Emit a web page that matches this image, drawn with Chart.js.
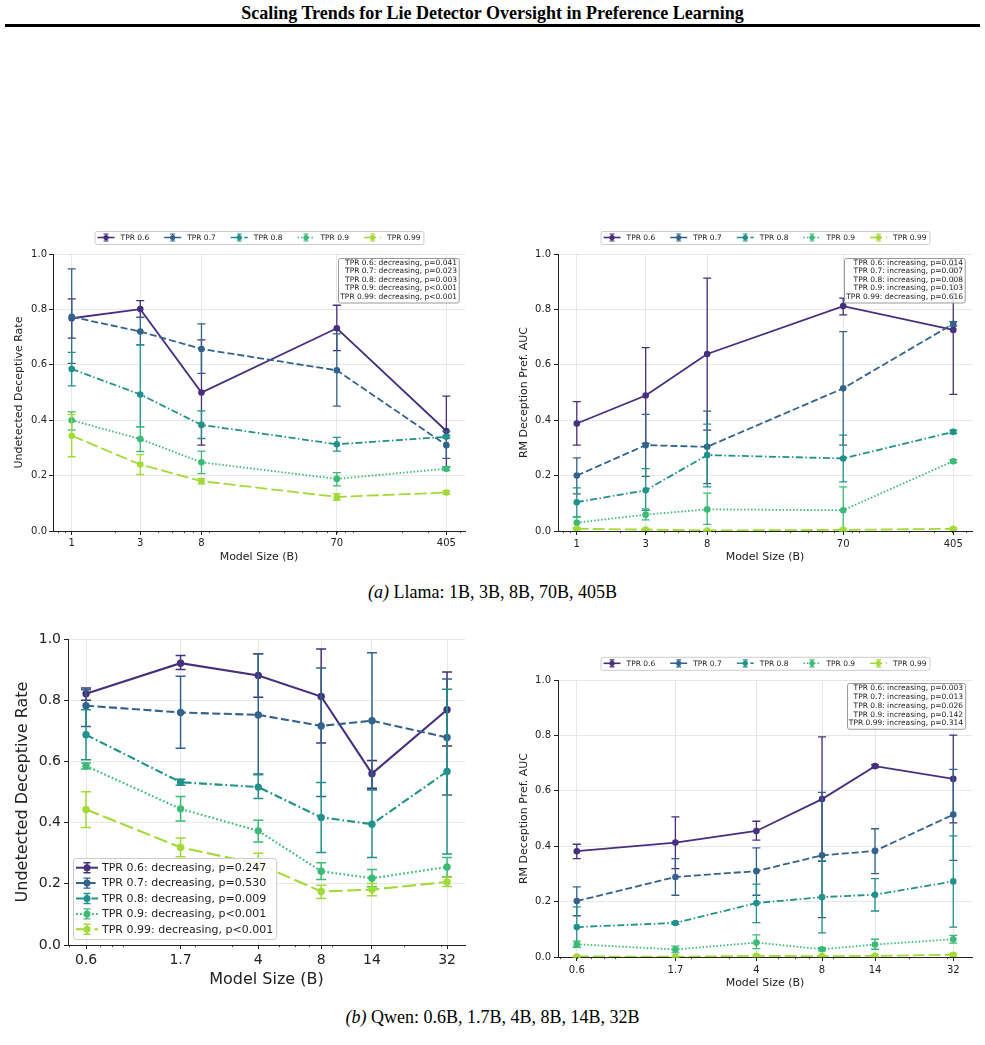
<!DOCTYPE html>
<html>
<head>
<meta charset="utf-8">
<script src="https://cdn.jsdelivr.net/npm/chart.js@4.4.1/dist/chart.umd.min.js"></script>
<style>
  body { margin: 0; background: #fff; width: 985px; height: 1045px; position: relative; overflow: hidden; font-family: "Liberation Serif", "Times New Roman", serif; color: #000; }
  .header { position: absolute; left: 0; top: 3px; width: 985px; text-align: center; font-weight: bold; font-size: 18px; line-height: 20px; }
  .rule { position: absolute; left: 5px; top: 24px; width: 975px; height: 2.5px; background: #000; }
  .caption { position: absolute; left: 0; width: 985px; text-align: center; font-size: 18px; line-height: 20px; }
  .pane { position: absolute; }
</style>
</head>
<body>
<div class="header">Scaling Trends for Lie Detector Oversight in Preference Learning</div>
<div class="rule"></div>

<div class="pane" style="left:0px;top:228px;"><canvas id="llamaRate" width="480" height="340"></canvas></div>
<div class="pane" style="left:490px;top:228px;"><canvas id="llamaAuc" width="495" height="340"></canvas></div>
<div class="caption" style="top:582px;"><i>(a)</i> Llama: 1B, 3B, 8B, 70B, 405B</div>

<div class="pane" style="left:0px;top:625px;"><canvas id="qwenRate" width="480" height="375"></canvas></div>
<div class="pane" style="left:490px;top:645px;"><canvas id="qwenAuc" width="495" height="355"></canvas></div>
<div class="caption" style="top:1007px;"><i>(b)</i> Qwen: 0.6B, 1.7B, 4B, 8B, 14B, 32B</div>

<script>
// series names, one row per TPR threshold in every table below
var tprLabels = ["TPR 0.6", "TPR 0.7", "TPR 0.8", "TPR 0.9", "TPR 0.99"];

// Llama
var llamaSizes = [1, 3, 8, 70, 405];
var llamaTicks = ["1", "3", "8", "70", "405"];

var llamaRateMean = [
  [0.768, 0.801, 0.500, 0.732, 0.361],
  [0.773, 0.720, 0.657, 0.580, 0.310],
  [0.585, 0.493, 0.383, 0.313, 0.340],
  [0.400, 0.332, 0.248, 0.188, 0.225],
  [0.344, 0.240, 0.180, 0.123, 0.139]
];
var llamaRateLow = [
  [0.696, 0.771, 0.310, 0.651, 0.232],
  [0.605, 0.672, 0.569, 0.451, 0.262],
  [0.524, 0.376, 0.334, 0.288, 0.335],
  [0.364, 0.287, 0.207, 0.163, 0.218],
  [0.268, 0.204, 0.170, 0.111, 0.133]
];
var llamaRateHigh = [
  [0.838, 0.832, 0.690, 0.815, 0.487],
  [0.946, 0.771, 0.748, 0.712, 0.360],
  [0.645, 0.672, 0.434, 0.338, 0.345],
  [0.430, 0.377, 0.288, 0.211, 0.232],
  [0.420, 0.276, 0.190, 0.135, 0.145]
];
var llamaRateTrend = ["decreasing, p=0.041", "decreasing, p=0.023", "decreasing, p=0.003", "decreasing, p<0.001", "decreasing, p<0.001"];

var llamaAucMean = [
  [0.388, 0.489, 0.639, 0.812, 0.726],
  [0.200, 0.310, 0.304, 0.515, 0.748],
  [0.104, 0.147, 0.274, 0.262, 0.358],
  [0.030, 0.059, 0.078, 0.075, 0.252],
  [0.008, 0.005, 0.002, 0.004, 0.008]
];
var llamaAucLow = [
  [0.310, 0.316, 0.364, 0.780, 0.493],
  [0.134, 0.197, 0.171, 0.310, 0.740],
  [0.051, 0.075, 0.159, 0.177, 0.352],
  [0.010, 0.040, 0.024, 0.000, 0.246],
  [0.005, 0.002, 0.000, 0.001, 0.005]
];
var llamaAucHigh = [
  [0.467, 0.662, 0.913, 0.841, 0.960],
  [0.264, 0.421, 0.433, 0.720, 0.756],
  [0.156, 0.225, 0.386, 0.346, 0.364],
  [0.050, 0.080, 0.137, 0.159, 0.258],
  [0.011, 0.008, 0.004, 0.007, 0.011]
];
var llamaAucTrend = ["increasing, p=0.014", "increasing, p=0.007", "increasing, p=0.008", "increasing, p=0.103", "decreasing, p=0.616"];

// Qwen
var qwenSizes = [0.6, 1.7, 4, 8, 14, 32];
var qwenTicks = ["0.6", "1.7", "4", "8", "14", "32"];

var qwenRateMean = [
  [0.821, 0.921, 0.881, 0.812, 0.560, 0.769],
  [0.782, 0.760, 0.752, 0.716, 0.733, 0.678],
  [0.687, 0.532, 0.516, 0.417, 0.395, 0.567],
  [0.585, 0.445, 0.373, 0.241, 0.218, 0.255],
  [0.443, 0.319, 0.265, 0.175, 0.181, 0.206]
];
var qwenRateLow = [
  [0.800, 0.900, 0.810, 0.660, 0.512, 0.650],
  [0.714, 0.643, 0.559, 0.485, 0.507, 0.490],
  [0.605, 0.522, 0.479, 0.302, 0.286, 0.297],
  [0.575, 0.405, 0.337, 0.214, 0.190, 0.223],
  [0.384, 0.288, 0.230, 0.152, 0.161, 0.191]
];
var qwenRateHigh = [
  [0.840, 0.946, 0.952, 0.967, 0.603, 0.892],
  [0.834, 0.878, 0.952, 0.905, 0.955, 0.869],
  [0.769, 0.542, 0.556, 0.531, 0.507, 0.836],
  [0.595, 0.485, 0.408, 0.269, 0.247, 0.286],
  [0.501, 0.350, 0.300, 0.195, 0.201, 0.221]
];
var qwenRateTrend = ["decreasing, p=0.247", "decreasing, p=0.530", "decreasing, p=0.009", "decreasing, p<0.001", "decreasing, p<0.001"];

var qwenAucMean = [
  [0.382, 0.413, 0.455, 0.570, 0.689, 0.643],
  [0.202, 0.289, 0.310, 0.367, 0.383, 0.514],
  [0.108, 0.123, 0.195, 0.216, 0.225, 0.273],
  [0.046, 0.027, 0.052, 0.028, 0.045, 0.064],
  [0.002, 0.001, 0.004, 0.003, 0.004, 0.008]
];
var qwenAucLow = [
  [0.355, 0.319, 0.422, 0.345, 0.684, 0.484],
  [0.149, 0.223, 0.223, 0.142, 0.301, 0.349],
  [0.036, 0.118, 0.124, 0.087, 0.166, 0.108],
  [0.035, 0.015, 0.030, 0.022, 0.028, 0.050],
  [0.000, 0.000, 0.001, 0.001, 0.001, 0.004]
];
var qwenAucHigh = [
  [0.407, 0.506, 0.490, 0.795, 0.694, 0.801],
  [0.253, 0.355, 0.394, 0.594, 0.463, 0.677],
  [0.181, 0.128, 0.263, 0.347, 0.283, 0.437],
  [0.057, 0.039, 0.080, 0.034, 0.064, 0.078],
  [0.004, 0.003, 0.008, 0.006, 0.008, 0.013]
];
var qwenAucTrend = ["increasing, p=0.003", "increasing, p=0.013", "increasing, p=0.026", "increasing, p=0.142", "increasing, p=0.314"];

// styles (viridis-like)
var tprColors = ["#472f7d", "#33638d", "#21918c", "#3bbb75", "#a2da37"];
var tprDash = [[], [7, 3], [7, 2.5, 1.5, 2.5], [1.5, 2], [12, 4]];

Chart.defaults.font.family = "'DejaVu Sans', sans-serif";
Chart.defaults.color = "#222";
Chart.defaults.animation = false;

function roundRect(ctx, x, y, w, h, r) {
  ctx.beginPath();
  ctx.moveTo(x + r, y);
  ctx.lineTo(x + w - r, y);
  ctx.quadraticCurveTo(x + w, y, x + w, y + r);
  ctx.lineTo(x + w, y + h - r);
  ctx.quadraticCurveTo(x + w, y + h, x + w - r, y + h);
  ctx.lineTo(x + r, y + h);
  ctx.quadraticCurveTo(x, y + h, x, y + h - r);
  ctx.lineTo(x, y + r);
  ctx.quadraticCurveTo(x, y, x + r, y);
  ctx.closePath();
}

// legend handle: line + errorbar + marker
function drawHandle(ctx, x0, x1, y, ds, h) {
  ctx.save();
  ctx.strokeStyle = ds.borderColor;
  ctx.lineWidth = h.lw;
  ctx.setLineDash(ds.borderDash || []);
  ctx.beginPath(); ctx.moveTo(x0, y); ctx.lineTo(x1, y); ctx.stroke();
  ctx.setLineDash([]);
  var xm = (x0 + x1) / 2;
  ctx.lineWidth = h.ew;
  ctx.beginPath();
  ctx.moveTo(xm, y - h.bar); ctx.lineTo(xm, y + h.bar);
  ctx.moveTo(xm - h.cap, y - h.bar); ctx.lineTo(xm + h.cap, y - h.bar);
  ctx.moveTo(xm - h.cap, y + h.bar); ctx.lineTo(xm + h.cap, y + h.bar);
  ctx.stroke();
  ctx.fillStyle = ds.borderColor;
  ctx.beginPath(); ctx.arc(xm, y, h.r, 0, Math.PI * 2); ctx.fill();
  ctx.restore();
}

var errorBars = {
  id: "errorBars",
  beforeDatasetDraw: function(chart, args, o) {
    var ds = chart.data.datasets[args.index];
    if (!ds.errLow) return;
    var xs = chart.scales.x, ys = chart.scales.y, ctx = chart.ctx;
    ctx.save();
    ctx.strokeStyle = ds.borderColor;
    ctx.lineWidth = o.width;
    ctx.setLineDash([]);
    ds.data.forEach(function(p, i) {
      var px = xs.getPixelForValue(p.x);
      var top = ys.getPixelForValue(ds.errHigh[i]);
      var bot = ys.getPixelForValue(ds.errLow[i]);
      ctx.beginPath();
      ctx.moveTo(px, top); ctx.lineTo(px, bot);
      ctx.moveTo(px - o.cap, top); ctx.lineTo(px + o.cap, top);
      ctx.moveTo(px - o.cap, bot); ctx.lineTo(px + o.cap, bot);
      ctx.stroke();
    });
    ctx.restore();
  }
};

var minorTicks = {
  id: "minorTicks",
  afterDraw: function(chart, args, o) {
    var xs = chart.scales.x, ctx = chart.ctx;
    var y0 = chart.chartArea.bottom;
    ctx.save();
    ctx.strokeStyle = "#222";
    ctx.lineWidth = 0.8;
    ctx.beginPath();
    for (var k = Math.floor(Math.log10(xs.min)); k <= Math.ceil(Math.log10(xs.max)); k++) {
      for (var d = 2; d <= 9; d++) {
        var v = d * Math.pow(10, k);
        if (v < xs.min || v > xs.max) continue;
        var px = Math.round(xs.getPixelForValue(v)) + 0.5;
        ctx.moveTo(px, y0); ctx.lineTo(px, y0 + 2.2);
      }
    }
    ctx.stroke();
    ctx.restore();
  }
};

// legend row above the axes
var topLegend = {
  id: "topLegend",
  afterDraw: function(chart, args, o) {
    if (!o.show) return;
    var ctx = chart.ctx, a = chart.chartArea, sets = chart.data.datasets;
    ctx.save();
    ctx.font = o.size + "px 'DejaVu Sans'";
    var widths = sets.map(function(ds) { return ctx.measureText(ds.label).width; });
    var total = 2 * o.pad + (sets.length - 1) * o.colGap;
    widths.forEach(function(w) { total += o.handle + o.gap + w; });
    var x = (a.left + a.right) / 2 - total / 2;
    var y = o.y;
    ctx.fillStyle = "rgba(255,255,255,0.85)";
    ctx.strokeStyle = "#cccccc";
    ctx.lineWidth = 1;
    roundRect(ctx, x + 0.5, y - o.h / 2 + 0.5, total, o.h, 2);
    ctx.fill(); ctx.stroke();
    var cx = x + o.pad;
    sets.forEach(function(ds, i) {
      drawHandle(ctx, cx, cx + o.handle, y, ds, o.hs);
      ctx.fillStyle = "#222";
      ctx.textAlign = "left";
      ctx.textBaseline = "middle";
      ctx.fillText(ds.label, cx + o.handle + o.gap, y + 0.5);
      cx += o.handle + o.gap + widths[i] + o.colGap;
    });
    ctx.restore();
  }
};

// legend box inside the axes (lower left), with trend text
var innerLegend = {
  id: "innerLegend",
  afterDraw: function(chart, args, o) {
    if (!o.show) return;
    var ctx = chart.ctx, a = chart.chartArea, sets = chart.data.datasets;
    ctx.save();
    ctx.font = o.size + "px 'DejaVu Sans'";
    var texts = sets.map(function(ds, i) { return ds.label + ": " + o.trend[i]; });
    var tw = Math.max.apply(null, texts.map(function(t) { return ctx.measureText(t).width; }));
    var w = o.pad + o.handle + o.gap + tw + o.pad;
    var h = texts.length * o.rowH + 2 * o.padY;
    var x0 = a.left + o.left, y0 = a.bottom - o.bottom - h;
    ctx.fillStyle = "rgba(255,255,255,0.85)";
    ctx.strokeStyle = "#cccccc";
    ctx.lineWidth = 1;
    roundRect(ctx, x0 + 0.5, y0 + 0.5, w, h, 3);
    ctx.fill(); ctx.stroke();
    texts.forEach(function(t, i) {
      var y = y0 + o.padY + o.rowH * (i + 0.5);
      drawHandle(ctx, x0 + o.pad, x0 + o.pad + o.handle, y, sets[i], o.hs);
      ctx.fillStyle = "#222";
      ctx.textAlign = "left";
      ctx.textBaseline = "middle";
      ctx.fillText(t, x0 + o.pad + o.handle + o.gap, y + 0.5);
    });
    ctx.restore();
  }
};

// trend text box in the upper right
var statsBox = {
  id: "statsBox",
  afterDraw: function(chart, args, o) {
    if (!o.trend) return;
    var ctx = chart.ctx, a = chart.chartArea;
    var lines = chart.data.datasets.map(function(ds, i) { return ds.label + ": " + o.trend[i]; });
    ctx.save();
    ctx.font = o.size + "px 'DejaVu Sans'";
    var tw = Math.max.apply(null, lines.map(function(t) { return ctx.measureText(t).width; }));
    var w = tw + 2 * o.padX, h = lines.length * o.lineH + 2 * o.padY;
    var x1 = a.right - o.right, x0 = x1 - w, y0 = a.top + o.top;
    ctx.fillStyle = "rgba(255,255,255,0.8)";
    ctx.strokeStyle = "#9a9a9a";
    ctx.lineWidth = 1;
    roundRect(ctx, Math.round(x0) + 0.5, Math.round(y0) + 0.5, w, h, 2);
    ctx.fill(); ctx.stroke();
    ctx.fillStyle = "#222";
    ctx.textAlign = "right";
    ctx.textBaseline = "middle";
    lines.forEach(function(t, i) {
      ctx.fillText(t, x1 - o.padX, y0 + o.padY + o.lineH * (i + 0.5));
    });
    ctx.restore();
  }
};

function buildDatasets(sizes, mean, low, high, st) {
  return tprLabels.map(function(lab, i) {
    return {
      label: lab,
      data: sizes.map(function(s, j) { return { x: s, y: mean[i][j] }; }),
      errLow: low[i],
      errHigh: high[i],
      borderColor: tprColors[i],
      backgroundColor: tprColors[i],
      pointBackgroundColor: tprColors[i],
      pointBorderColor: tprColors[i],
      borderWidth: st.lw,
      borderDash: tprDash[i].map(function(v) { return v * st.dash; }),
      pointRadius: st.r,
      pointHoverRadius: st.r,
      pointBorderWidth: 0,
      tension: 0,
      order: tprLabels.length - i
    };
  });
}

function makeChart(id, sizes, tickLabels, datasets, yTitle, L, plugs) {
  return new Chart(document.getElementById(id), {
    type: "line",
    data: { datasets: datasets },
    options: {
      responsive: false,
      animation: false,
      events: [],
      layout: { padding: L.pad },
      plugins: {
        legend: { display: false },
        tooltip: { enabled: false },
        errorBars: { width: L.ew, cap: L.cap },
        topLegend: plugs.topLegend || { show: false },
        innerLegend: plugs.innerLegend || { show: false },
        statsBox: plugs.statsBox || {}
      },
      scales: {
        x: {
          type: "logarithmic",
          bounds: "data",
          min: L.xMin,
          max: L.xMax,
          afterBuildTicks: function(s) { s.ticks = sizes.map(function(v) { return { value: v }; }); },
          afterFit: function(s) { s.height = L.xH; },
          ticks: {
            autoSkip: false, maxRotation: 0, minRotation: 0, padding: L.tickPad,
            font: { size: L.tick }, color: "#222",
            callback: function(v, i) { return tickLabels[i]; }
          },
          grid: { color: "#e8e8e8", lineWidth: 1, tickColor: "#222", tickLength: 4, tickWidth: 1 },
          border: { color: "#222", width: 1 },
          title: { display: true, text: "Model Size (B)", color: "#222", font: { size: L.title }, padding: { top: 0, bottom: L.xTitlePad } }
        },
        y: {
          min: 0,
          max: 1,
          afterFit: function(s) { s.width = L.yW; },
          ticks: {
            stepSize: 0.2, padding: L.tickPad, font: { size: L.tick }, color: "#222",
            callback: function(v) { return Number(v).toFixed(1); }
          },
          grid: { color: "#e8e8e8", lineWidth: 1, tickColor: "#222", tickLength: 4, tickWidth: 1 },
          border: { color: "#222", width: 1 },
          title: { display: true, text: yTitle, color: "#222", font: { size: L.title }, padding: { top: L.yTitlePad, bottom: 0 } }
        }
      }
    },
    plugins: [errorBars, minorTicks, topLegend, innerLegend, statsBox]
  });
}

var smallStyle = { lw: 1.8, r: 3.3, dash: 1 };
var bigStyle = { lw: 2.1, r: 3.7, dash: 1.15 };

var smallHandle = { lw: 1.6, ew: 1.2, bar: 3.5, cap: 2.5, r: 2.6 };
var bigHandle = { lw: 2, ew: 1.4, bar: 5, cap: 3.5, r: 3.5 };

var topLegendSmall = function(y) {
  return { show: true, y: y, h: 13, size: 7.5, pad: 3, handle: 17, gap: 6, colGap: 15, hs: smallHandle };
};

// Llama: undetected deceptive rate
makeChart("llamaRate", llamaSizes, llamaTicks,
  buildDatasets(llamaSizes, llamaRateMean, llamaRateLow, llamaRateHigh, smallStyle),
  "Undetected Deceptive Rate",
  { pad: { left: 0, top: 26, right: 15, bottom: 0 }, yW: 53, xH: 37, xMin: 0.741, xMax: 546,
    tick: 10, title: 11, tickPad: 2, xTitlePad: 4, yTitlePad: 13, ew: 1.3, cap: 4 },
  { topLegend: topLegendSmall(9.5),
    statsBox: { trend: llamaRateTrend, size: 7.5, lineH: 8.5, padX: 2, padY: 1, right: 6, top: 3.5 } });

// Llama: RM deception pref AUC
makeChart("llamaAuc", llamaSizes, llamaTicks,
  buildDatasets(llamaSizes, llamaAucMean, llamaAucLow, llamaAucHigh, smallStyle),
  "RM Deception Pref. AUC",
  { pad: { left: 0, top: 26, right: 13, bottom: 0 }, yW: 68, xH: 37, xMin: 0.741, xMax: 546,
    tick: 10, title: 11, tickPad: 3, xTitlePad: 4, yTitlePad: 28, ew: 1.3, cap: 4 },
  { topLegend: topLegendSmall(9.5),
    statsBox: { trend: llamaAucTrend, size: 7.5, lineH: 8.5, padX: 2, padY: 1, right: 7, top: 3.5 } });

// Qwen: undetected deceptive rate
makeChart("qwenRate", qwenSizes, qwenTicks,
  buildDatasets(qwenSizes, qwenRateMean, qwenRateLow, qwenRateHigh, bigStyle),
  "Undetected Deceptive Rate",
  { pad: { left: 0, top: 14, right: 15, bottom: 0 }, yW: 68, xH: 55, xMin: 0.492, xMax: 39.0,
    tick: 14, title: 16, tickPad: 3, xTitlePad: 11, yTitlePad: 13, ew: 1.5, cap: 5 },
  { innerLegend: { show: true, trend: qwenRateTrend, size: 11, rowH: 15.4, pad: 3, padY: 2, handle: 22, gap: 4, left: 5, bottom: 6, hs: bigHandle } });

// Qwen: RM deception pref AUC
makeChart("qwenAuc", qwenSizes, qwenTicks,
  buildDatasets(qwenSizes, qwenAucMean, qwenAucLow, qwenAucHigh, smallStyle),
  "RM Deception Pref. AUC",
  { pad: { left: 0, top: 35, right: 13, bottom: 0 }, yW: 68, xH: 43, xMin: 0.492, xMax: 39.0,
    tick: 10, title: 11, tickPad: 3, xTitlePad: 10, yTitlePad: 28, ew: 1.3, cap: 4 },
  { topLegend: topLegendSmall(18.3),
    statsBox: { trend: qwenAucTrend, size: 7.5, lineH: 8.75, padX: 2, padY: 1, right: 7, top: 3 } });
</script>
</body>
</html>
